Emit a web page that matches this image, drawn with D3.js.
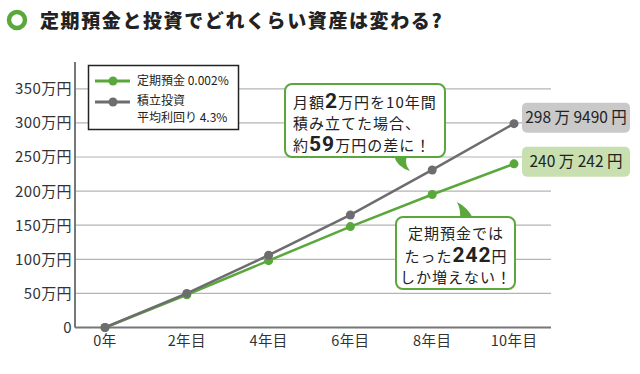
<!DOCTYPE html>
<html lang="ja">
<head>
<meta charset="UTF-8">
<title>定期預金と投資</title>
<script src="https://d3js.org/d3.v7.min.js"></script>
<style>
  body { margin: 0; background: #fff; font-family: "Noto Sans CJK JP", "Noto Sans", sans-serif; }
  svg { display: block; }
</style>
</head>
<body>
<svg width="640" height="374"></svg>
<script>
const years = [0, 2, 4, 6, 8, 10];
const xLabels = ["0年", "2年目", "4年目", "6年目", "8年目", "10年目"];
const deposit = [0, 48, 98, 148, 195, 240];
const invest = [0, 50, 106, 165, 231, 298.9];
const yTicks = [0, 50, 100, 150, 200, 250, 300, 350];

const green = "#5aa83c", gray = "#6d6d6f";
const svg = d3.select("svg");

const x = d3.scaleLinear().domain([0, 10]).range([105, 514]);
const y = d3.scaleLinear().domain([0, 350]).range([327.5, 88.8]);
const left = 75, right = 551;

// title
svg.append("circle").attr("cx", 17).attr("cy", 20).attr("r", 8)
  .attr("fill", "none").attr("stroke", green).attr("stroke-width", 4.5);
svg.append("text").attr("x", 40).attr("y", 28)
  .attr("font-size", 19).attr("font-weight", 900).attr("fill", "#222")
  .attr("letter-spacing", 1.6)
  .text("定期預金と投資でどれくらい資産は変わる?");

// grid
svg.append("g").selectAll("line").data(yTicks.slice(1)).join("line")
  .attr("x1", left).attr("x2", right)
  .attr("y1", d => y(d)).attr("y2", d => y(d))
  .attr("stroke", "#b4b4b4").attr("stroke-width", 1.2);

svg.append("g").selectAll("text").data(yTicks).join("text")
  .attr("x", 72).attr("y", d => y(d)).attr("dy", "0.36em")
  .attr("text-anchor", "end").attr("font-size", 15).attr("fill", "#333")
  .attr("letter-spacing", 0.4)
  .text(d => d === 0 ? "0" : d + "万円");

svg.append("line").attr("x1", left).attr("x2", left).attr("y1", 62).attr("y2", y(0))
  .attr("stroke", "#777").attr("stroke-width", 2);
svg.append("line").attr("x1", left).attr("x2", right).attr("y1", y(0)).attr("y2", y(0))
  .attr("stroke", "#777").attr("stroke-width", 2);

svg.append("g").selectAll("text").data(years).join("text")
  .attr("x", d => x(d)).attr("y", 341).attr("dy", "0.36em")
  .attr("text-anchor", "middle").attr("font-size", 14.5).attr("fill", "#333")
  .attr("letter-spacing", 0.4)
  .text((d, i) => xLabels[i]);

// lines
const line = d3.line().x((d, i) => x(years[i])).y(d => y(d));
[[deposit, green], [invest, gray]].forEach(([vals, c]) => {
  svg.append("path").attr("d", line(vals)).attr("fill", "none")
    .attr("stroke", c).attr("stroke-width", 2.5);
  svg.append("g").selectAll("circle").data(vals).join("circle")
    .attr("cx", (d, i) => x(years[i])).attr("cy", d => y(d)).attr("r", 4.5).attr("fill", c);
});

// legend
const lg = svg.append("g");
lg.append("rect").attr("x", 88.5).attr("y", 65.5).attr("width", 150).attr("height", 64)
  .attr("fill", "#fff").attr("stroke", "#222").attr("stroke-width", 1.5);
[[green, 81], [gray, 102]].forEach(([c, yy]) => {
  lg.append("line").attr("x1", 95).attr("x2", 130).attr("y1", yy).attr("y2", yy)
    .attr("stroke", c).attr("stroke-width", 3);
  lg.append("circle").attr("cx", 113).attr("cy", yy).attr("r", 4.5).attr("fill", c);
});
lg.append("text").attr("x", 137).attr("y", 81).attr("dy", "0.36em").attr("font-size", 12).attr("fill", "#222")
  .text("定期預金 0.002%");
lg.append("text").attr("x", 137).attr("y", 101).attr("dy", "0.36em").attr("font-size", 12).attr("fill", "#222")
  .text("積立投資");
lg.append("text").attr("x", 137).attr("y", 118).attr("dy", "0.36em").attr("font-size", 12).attr("fill", "#222")
  .text("平均利回り 4.3%");

// value labels
function valueLabel(val, txt, fill, dy) {
  const cy = y(val) + dy;
  svg.append("rect").attr("x", x(10) + 8).attr("y", cy - 15).attr("width", 108).attr("height", 30)
    .attr("rx", 5).attr("fill", fill);
  svg.append("text").attr("x", x(10) + 62).attr("y", cy).attr("dy", "0.36em")
    .attr("text-anchor", "middle").attr("font-size", 15.5).attr("fill", "#222").text(txt);
}
valueLabel(invest[5], "298 万 9490 円", "#c9c9c9", -6);
valueLabel(deposit[5], "240 万 242 円", "#c8e0b0", -2);

// callouts; big digits use Roboto so their line box stays compact
function callout(bx, by, bw, bh, tail, lines) {
  svg.append("path").attr("d", tail).attr("fill", green);
  svg.append("rect").attr("x", bx).attr("y", by).attr("width", bw).attr("height", bh)
    .attr("rx", 7).attr("fill", "#fff").attr("stroke", green).attr("stroke-width", 2);
  lines.forEach(l => {
    const t = svg.append("text").attr("x", l.x).attr("y", l.y).attr("font-size", 15)
      .attr("fill", "#222").attr("letter-spacing", 1).attr("text-anchor", l.anchor || "start");
    l.parts.forEach(p => {
      const s = t.append("tspan").text(p[0]);
      if (p[1]) s.attr("font-size", 21).attr("font-weight", 700).attr("font-family", "Roboto, sans-serif");
    });
  });
}
callout(285, 84, 160, 73,
  "M394,156 Q397,167 410,171 Q404,164 407,156 Z",
  [
    { x: 293, y: 108, parts: [["月額"], ["2", 1], ["万円を10年間"]] },
    { x: 293, y: 129, parts: [["積み立てた場合、"]] },
    { x: 293, y: 151, parts: [["約"], ["59", 1], ["万円の差に！"]] }
  ]);
callout(396, 217, 119, 72,
  "M457,202 Q467,207 473,218 L460,218 Q461,210 457,202 Z",
  [
    { x: 456, y: 239, anchor: "middle", parts: [["定期預金では"]] },
    { x: 456, y: 262, anchor: "middle", parts: [["たった"], ["242", 1], ["円"]] },
    { x: 456, y: 283, anchor: "middle", parts: [["しか増えない！"]] }
  ]);
</script>
</body>
</html>
